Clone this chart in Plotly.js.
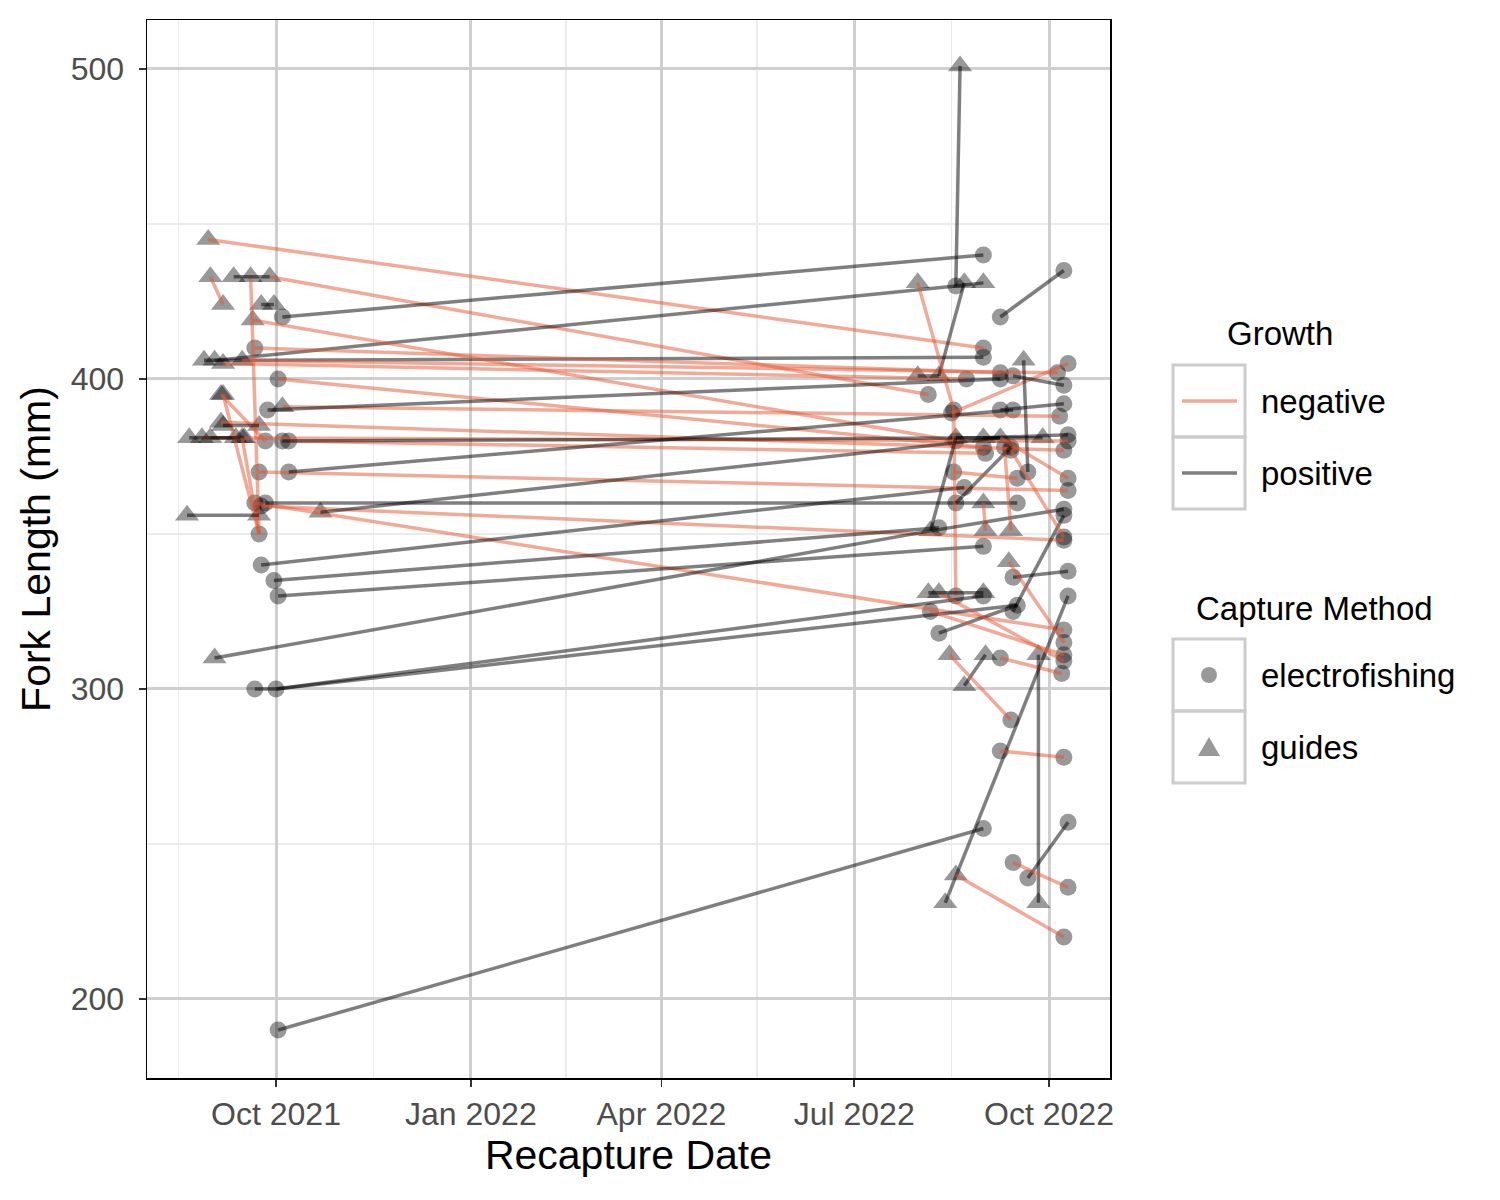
<!DOCTYPE html>
<html>
<head>
<meta charset="utf-8">
<script src="https://cdn.plot.ly/plotly-3.0.1.min.js"></script>
<style>html,body{margin:0;padding:0;background:#fff}#chart{width:1500px;height:1200px}</style>
</head>
<body>
<div id="chart"></div>
<script>
// ---- Data: one entry per tagged fish (first capture -> recapture) ----
const dateA = ['2021-08-30','2021-09-28','2021-10-04','2021-09-02','2021-08-28','2021-09-21','2021-09-20','2021-09-06','2021-09-15','2021-10-02',
  '2021-10-04','2021-09-05','2021-08-27','2021-10-07','2021-09-23','2021-09-24','2021-09-21','2021-09-27','2021-10-04','2021-10-07',
  '2021-09-26','2021-10-22','2021-09-24','2021-09-30','2021-10-02','2021-09-02','2021-10-01','2021-10-01','2021-10-02',
  '2021-08-31','2021-09-19','2021-09-11','2021-09-24','2021-08-21','2021-09-05','2021-09-06','2021-09-15','2021-08-20','2021-09-21','2021-09-06','2021-08-31',
  '2022-08-18','2022-09-08','2022-08-10','2022-07-31','2022-08-17','2022-08-06','2022-08-10','2022-08-16','2022-09-19','2022-08-18',
  '2022-08-06','2022-08-13','2022-09-14','2022-09-14','2022-08-22','2022-08-15','2022-09-08','2022-09-08','2022-09-26','2022-09-21',
  '2022-09-14','2022-08-18','2022-08-06','2022-08-10','2022-08-05','2022-08-18','2022-09-14','2022-09-08','2022-08-18','2022-08-31',
  '2022-09-10','2022-08-31','2022-08-17','2022-09-13','2022-09-08','2022-09-12','2022-07-31'];
const lenA = [445,433,420,406,406,410,419,405,406,400,
  391,386,381,380,370,359,360,390,380,370,
  360,357,340,335,330,310,300,300,190,
  433,433,433,424,381,395,395,381,356,300,385,381,
  430,420,401,431,390,351,318,389,406,360,
  351,231,325,336,301,311,310,280,231,239,
  244,240,325,331,331,430,401,390,381,381,
  378,360,370,377,381,341,401];
const methodA = ['guides','guides','electrofishing','guides','guides','electrofishing','guides','guides','guides','electrofishing',
  'guides','guides','guides','electrofishing','electrofishing','electrofishing','electrofishing','electrofishing','electrofishing','electrofishing',
  'electrofishing','guides','electrofishing','electrofishing','electrofishing','guides','electrofishing','electrofishing','electrofishing',
  'guides','guides','guides','guides','guides','guides','guides','guides','guides','electrofishing','guides','guides',
  'electrofishing','electrofishing','guides','guides','electrofishing','guides','electrofishing','electrofishing','guides','electrofishing',
  'guides','guides','electrofishing','electrofishing','guides','guides','electrofishing','electrofishing','guides','electrofishing',
  'electrofishing','guides','electrofishing','guides','guides','electrofishing','electrofishing','electrofishing','guides','guides',
  'electrofishing','guides','electrofishing','electrofishing','guides','guides','guides'];
const dateB = ['2022-08-31','2022-08-05','2022-08-31','2022-08-18','2022-08-31','2022-09-08','2022-08-18','2022-08-23','2022-10-05','2022-08-31',
  '2022-10-06','2022-10-08','2022-10-10','2022-09-01','2022-10-10','2022-10-08','2022-10-08','2022-09-08','2022-09-08','2022-09-14',
  '2022-09-16','2022-09-08','2022-08-22','2022-08-10','2022-08-31','2022-08-06','2022-08-31','2022-09-16','2022-08-31',
  '2021-09-06','2021-09-23','2021-09-28','2021-09-30','2021-09-16','2021-09-26','2021-09-23','2021-09-23','2021-09-23','2021-10-01','2021-09-23','2021-09-12',
  '2022-08-20','2022-10-08','2022-08-22','2022-08-17','2022-08-18','2022-08-18','2022-09-16','2022-10-10','2022-09-21','2022-09-13',
  '2022-10-08','2022-10-10','2022-10-08','2022-10-10','2022-09-01','2022-09-13','2022-10-07','2022-10-08','2022-09-26','2022-10-10',
  '2022-10-10','2022-10-08','2022-10-08','2022-10-08','2022-08-31','2022-08-31','2022-10-08','2022-10-08','2022-09-28','2022-10-10',
  '2022-09-13','2022-09-01','2022-09-16','2022-10-08','2022-10-10','2022-10-08','2022-08-10'];
const lenB = [410,395,440,430,407,402,380,400,402,378,
  388,377,380,376,364,348,319,400,381,390,
  360,381,365,352,346,351,330,327,255,
  424,350,433,424,381,380,350,350,356,300,385,381,
  501,435,431,390,330,381,327,405,370,378,
  358,330,356,338,311,290,305,278,311,257,
  236,220,311,309,331,431,398,392,381,382,
  351,351,368,349,368,315,401];
const methodB = ['electrofishing','electrofishing','electrofishing','electrofishing','electrofishing','electrofishing','electrofishing','electrofishing','electrofishing','electrofishing',
  'electrofishing','electrofishing','electrofishing','electrofishing','electrofishing','electrofishing','electrofishing','electrofishing','guides','electrofishing',
  'electrofishing','guides','electrofishing','electrofishing','electrofishing','guides','electrofishing','electrofishing','electrofishing',
  'guides','electrofishing','guides','guides','guides','electrofishing','electrofishing','electrofishing','guides','electrofishing','guides','guides',
  'guides','electrofishing','guides','electrofishing','electrofishing','guides','electrofishing','electrofishing','electrofishing','electrofishing',
  'electrofishing','electrofishing','electrofishing','electrofishing','guides','electrofishing','electrofishing','electrofishing','guides','electrofishing',
  'electrofishing','electrofishing','electrofishing','electrofishing','guides','guides','electrofishing','electrofishing','guides','electrofishing',
  'guides','guides','electrofishing','electrofishing','electrofishing','electrofishing','guides'];
const growth = ['negative','negative','positive','positive','positive','negative','negative','negative','negative','negative',
  'negative','negative','negative','negative','negative','negative','negative','positive','positive','positive',
  'positive','positive','positive','positive','positive','positive','positive','positive','positive',
  'negative','negative','positive','positive','positive','negative','negative','negative','positive','positive','positive','positive',
  'positive','positive','positive','negative','negative','positive','positive','negative','positive','positive',
  'positive','positive','positive','positive','positive','negative','negative','negative','positive','positive',
  'negative','negative','negative','negative','positive','positive','positive','positive','positive','positive',
  'negative','negative','negative','negative','negative','negative','positive'];

const growthLevels = ['negative','positive'];
const methodLevels = ['electrofishing','guides'];
const xTickVals = ['2021-10-01','2022-01-01','2022-04-01','2022-07-01','2022-10-01'];
const xTickLabels = ['Oct 2021','Jan 2022','Apr 2022','Jul 2022','Oct 2022'];
const yTicks = [200,300,400,500];

// ---- Styles ----
const lineColor = {negative:'rgba(230,85,50,0.5)', positive:'rgba(0,0,0,0.5)'};
const pointSymbol = {electrofishing:'circle', guides:'triangle-up'};
const pointSize = {electrofishing:17, guides:21};
const pointColor = 'rgba(0,0,0,0.40)';
const FONT = 'Liberation Sans, Arial, Helvetica, sans-serif';

const traces = [];
methodLevels.forEach(m => {
  const xs = [], ys = [], seen = new Set();
  const add = (d, v) => { const k = d + '|' + v; if (!seen.has(k)) { seen.add(k); xs.push(d); ys.push(v); } };
  for (let i = 0; i < dateA.length; i++) {
    if (methodA[i] === m) add(dateA[i], lenA[i]);
    if (methodB[i] === m) add(dateB[i], lenB[i]);
  }
  traces.push({type:'scatter', mode:'markers', x:xs, y:ys, name:m, showlegend:false, hoverinfo:'x+y',
    marker:{symbol:pointSymbol[m], size:pointSize[m], color:pointColor, line:{width:0}}});
});
for (let i = 0; i < dateA.length; i++) {
  traces.push({type:'scatter', mode:'lines', x:[dateA[i], dateB[i]], y:[lenA[i], lenB[i]],
    name:growth[i], showlegend:false, hoverinfo:'x+y',
    line:{color:lineColor[growth[i]], width:3.5}});
}

// ---- Manual ggplot-style legend (paper coords derived from pixel layout) ----
const L = 147, R = 1110, T = 20, B = 1078;
const px = x => (x - L) / (R - L);
const py = y => (B - y) / (B - T);
const shapes = [], annotations = [];
function box(x0, y0, x1, y1) {
  shapes.push({type:'rect', xref:'paper', yref:'paper', x0:px(x0), x1:px(x1), y0:py(y1), y1:py(y0),
    line:{color:'#CCCCCC', width:3}, fillcolor:'rgba(255,255,255,0)', layer:'above'});
}
function label(text, x, y, size) {
  annotations.push({text:text, xref:'paper', yref:'paper', x:px(x), y:py(y), xanchor:'left', yanchor:'middle',
    showarrow:false, font:{family:FONT, size:size, color:'#000'}});
}
label('Growth', 1225, 333, 33);
growthLevels.forEach((g, k) => {
  const top = 365 + 72 * k;
  box(1173, top, 1245, top + 72);
  shapes.push({type:'line', xref:'paper', yref:'paper', x0:px(1182), x1:px(1237), y0:py(top + 36), y1:py(top + 36),
    line:{color:lineColor[g], width:3.5}, layer:'above'});
  label(g, 1259, top + 36, 33);
});
label('Capture Method', 1194, 608, 33);
methodLevels.forEach((m, k) => {
  const top = 639 + 72 * k, cx = 1209, cy = top + 36;
  box(1173, top, 1245, top + 72);
  if (m === 'electrofishing') {
    shapes.push({type:'circle', xref:'paper', yref:'paper', x0:px(cx - 8), x1:px(cx + 8), y0:py(cy + 8), y1:py(cy - 8),
      fillcolor:pointColor, line:{width:0}, layer:'above'});
  } else {
    const p = `M ${px(cx - 11)} ${py(cy + 9)} L ${px(cx + 11)} ${py(cy + 9)} L ${px(cx)} ${py(cy - 10)} Z`;
    shapes.push({type:'path', xref:'paper', yref:'paper', path:p, fillcolor:pointColor, line:{width:0}, layer:'above'});
  }
  label(m, 1259, cy, 33);
});

const layout = {
  width:1500, height:1200, paper_bgcolor:'#fff', plot_bgcolor:'#fff',
  margin:{l:L, r:1500 - R, t:T, b:1200 - B, pad:0},
  font:{family:FONT, color:'#000'},
  showlegend:false,
  xaxis:{type:'date', range:['2021-08-01 02:00','2022-10-29 19:00'],
    tickmode:'array', tickvals:xTickVals, ticktext:xTickLabels,
    showgrid:true, gridcolor:'#CFCFCF', gridwidth:3,
    minor:{tickmode:'array', tickvals:['2021-08-16','2021-11-16','2022-02-15','2022-05-16','2022-08-16'], showgrid:true, gridcolor:'#EBEBEB', gridwidth:1.5, ticks:''},
    ticks:'outside', ticklen:7, tickwidth:1.5, tickcolor:'#333333', ticklabelstandoff:0,
    tickfont:{family:FONT, size:32, color:'#4D4D4D'},
    showline:true, mirror:true, linecolor:'#000', linewidth:1.5, zeroline:false, automargin:false,
    title:{text:'Recapture Date', font:{family:FONT, size:41, color:'#000'}, standoff:4}},
  yaxis:{range:[174.5, 515.8], tickmode:'array', tickvals:yTicks,
    showgrid:true, gridcolor:'#CFCFCF', gridwidth:3,
    minor:{tickmode:'array', tickvals:[250,350,450], showgrid:true, gridcolor:'#EBEBEB', gridwidth:1.5, ticks:''},
    ticks:'outside', ticklen:7, tickwidth:1.5, tickcolor:'#333333', ticklabelstandoff:8,
    tickfont:{family:FONT, size:32, color:'#4D4D4D'},
    showline:true, mirror:true, linecolor:'#000', linewidth:1.5, zeroline:false, automargin:false,
    title:{text:'Fork Length (mm)', font:{family:FONT, size:41, color:'#000'}, standoff:7}},
  shapes:shapes, annotations:annotations
};
Plotly.newPlot('chart', traces, layout, {displayModeBar:false, staticPlot:true});
</script>
</body>
</html>
